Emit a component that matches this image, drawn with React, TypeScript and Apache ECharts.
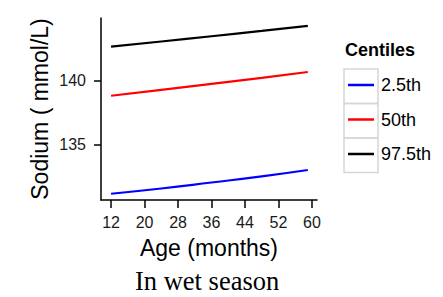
import React, { useEffect, useRef } from "react";
import * as echarts from "echarts";

const ages = [12, 24, 36, 48, 59];
const seriesNames = ["2.5th", "50th", "97.5th"];
const seriesColors = ["#0000ff", "#ff0000", "#000000"];
const low = [131.14, 131.55, 132.02, 132.5, 133.0];
const mid = [138.82, 139.28, 139.75, 140.22, 140.68];
const high = [142.66, 143.07, 143.48, 143.9, 144.29];
const xTicks = [12, 20, 28, 36, 44, 52, 60];
const yTicks = [135, 140];

export default function App() {
  const ref = useRef<HTMLDivElement>(null);
  useEffect(() => {
    if (!ref.current) return;
    const chart = echarts.init(ref.current, null, { renderer: "svg" });
    const values = [low, mid, high];
    const sans = "Liberation Sans, Arial, sans-serif";
    const rowCenters = [86, 120.5, 155];
    chart.setOption({
      animation: false,
      backgroundColor: "#ffffff",
      title: [
        {
          text: "Centiles",
          left: 345,
          top: 41,
          padding: 0,
          textStyle: { fontFamily: sans, fontSize: 18, fontWeight: "bold", color: "#000" },
        },
        {
          text: "In wet season",
          left: 135,
          top: 267,
          padding: 0,
          textStyle: { fontFamily: "Liberation Serif, Times New Roman, serif", fontSize: 26.5, fontWeight: "normal", color: "#000" },
        },
      ],
      legend: seriesNames.map((n, i) => ({
        data: [n],
        orient: "vertical",
        left: 348,
        top: rowCenters[i] - 10,
        padding: 0,
        icon: "rect",
        itemWidth: 26,
        itemHeight: 2.5,
        itemGap: 0,
        selectedMode: false,
        textStyle: { fontFamily: sans, fontSize: 18, color: "#000", padding: [0, 0, 0, 2] },
      })),
      graphic: rowCenters.map((c) => ({
        type: "rect",
        shape: { x: 344, y: c - 17, width: 34, height: 34.5 },
        style: { fill: "none", stroke: "#d6d6d6", lineWidth: 1.5 },
        z: -1,
      })),
      grid: { left: 101, top: 18, width: 216, height: 182 },
      xAxis: {
        type: "value",
        min: 9.6,
        max: 61.2,
        name: "Age (months)",
        nameLocation: "middle",
        nameGap: 36,
        nameTextStyle: { fontFamily: sans, fontSize: 23, color: "#000" },
        axisLine: { show: true, lineStyle: { color: "#000", width: 1.5 } },
        axisTick: { show: true, length: 8, customValues: xTicks, lineStyle: { color: "#000", width: 1.5 } },
        axisLabel: { customValues: xTicks, fontFamily: sans, fontSize: 16, color: "#1a1a1a", margin: 14 },
        splitLine: { show: false },
      },
      yAxis: {
        type: "value",
        min: 130.65,
        max: 144.91,
        name: "Sodium ( mmol/L)",
        nameLocation: "middle",
        nameGap: 50,
        nameTextStyle: { fontFamily: sans, fontSize: 23, color: "#000" },
        axisLine: { show: true, lineStyle: { color: "#000", width: 1.5 } },
        axisTick: { show: true, length: 7, customValues: yTicks, lineStyle: { color: "#000", width: 1.5 } },
        axisLabel: { customValues: yTicks, fontFamily: sans, fontSize: 16, color: "#1a1a1a", margin: 15 },
        splitLine: { show: false },
      },
      series: seriesNames.map((n, i) => ({
        name: n,
        type: "line",
        data: ages.map((a, j) => [a, values[i][j]]),
        showSymbol: false,
        smooth: true,
        lineStyle: { color: seriesColors[i], width: 2.2 },
        itemStyle: { color: seriesColors[i] },
      })),
    });
    return () => chart.dispose();
  }, []);
  return <div ref={ref} style={{ width: 443, height: 297, position: "absolute", left: 0, top: 0 }} />;
}
